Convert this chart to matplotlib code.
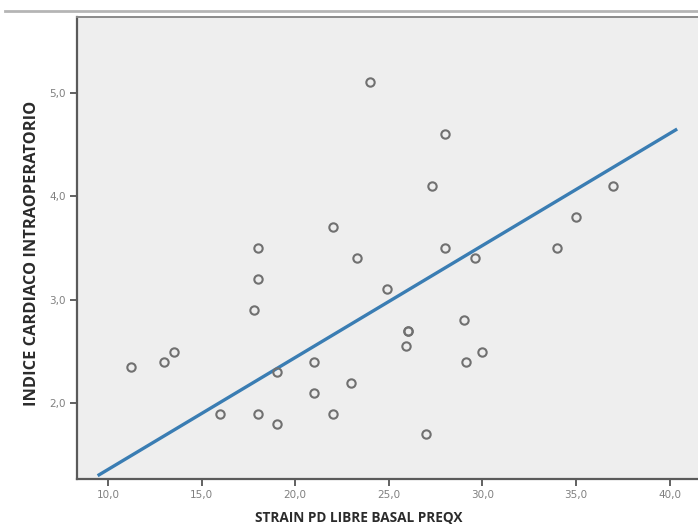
import matplotlib.pyplot as plt
from matplotlib.lines import Line2D

# strain PD libre basal preQx vs indice cardiaco intraoperatorio
strain = [11.2, 13.0, 13.5, 16.0, 17.8, 18.0, 18.0, 18.0, 19.0, 19.0,
          21.0, 21.0, 22.0, 22.0, 23.0, 23.3, 24.0, 24.9, 26.0, 26.0,
          25.9, 27.0, 27.3, 28.0, 28.0, 29.0, 29.1, 29.6, 30.0, 34.0,
          35.0, 37.0]
indice = [2.35, 2.4, 2.5, 1.9, 2.9, 3.5, 3.2, 1.9, 2.3, 1.8,
          2.4, 2.1, 3.7, 1.9, 2.2, 3.4, 5.1, 3.1, 2.7, 2.7,
          2.55, 1.7, 4.1, 4.6, 3.5, 2.8, 2.4, 3.4, 2.5, 3.5,
          3.8, 4.1]
# fit line as drawn in the picture (end points)
fit_x = [9.52, 40.33]
fit_y = [1.31, 4.64]
xticks = [10, 15, 20, 25, 30, 35, 40]
yticks = [2, 3, 4, 5]

fig = plt.figure(figsize=(6.98, 5.24), dpi=100)
ax = fig.add_axes([0.1103, 0.0859, 0.8897, 0.8817])
ax.set_facecolor('#eeeeee')

ax.plot(strain, indice, 'o', ms=6, mfc='none', mec='#707070', mew=1.5, zorder=3)
ax.plot(fit_x, fit_y, color='#3a7db3', lw=2.4, zorder=2)

ax.set_xlim(8.34, 41.52)
ax.set_ylim(1.27, 5.73)
ax.set_xticks(xticks)
ax.set_yticks(yticks)
ax.set_xticklabels([f"{t:.1f}".replace('.', ',') for t in xticks])
ax.set_yticklabels([f"{t:.1f}".replace('.', ',') for t in yticks])
ax.tick_params(length=5, width=1.3, color='#555555', labelsize=7.5,
               labelcolor='#808080', pad=3)

for s in ['left', 'bottom']:
    ax.spines[s].set_color('#5a5a5a')
    ax.spines[s].set_linewidth(1.6)
ax.spines['top'].set_color('#8a8a8a')
ax.spines['top'].set_linewidth(1.4)
ax.spines['right'].set_visible(False)

fig.text(359 / 698, 1 - 521 / 524, 'STRAIN PD LIBRE BASAL PREQX', fontsize=9.8,
         fontweight='bold', color='#2b2b2b', family='Open Sans',
         ha='center', va='baseline')
fig.text(32 / 698, 1 - 253 / 524, 'INDICE CARDIACO INTRAOPERATORIO', fontsize=11.8,
         fontweight='bold', color='#2b2b2b', family='Open Sans',
         rotation=90, ha='center', va='center')

fig.add_artist(Line2D([0.007, 1.0], [1 - 11 / 524, 1 - 11 / 524],
                      color='#b5b5b5', lw=2, transform=fig.transFigure))

fig.savefig('out.png', dpi=100)
